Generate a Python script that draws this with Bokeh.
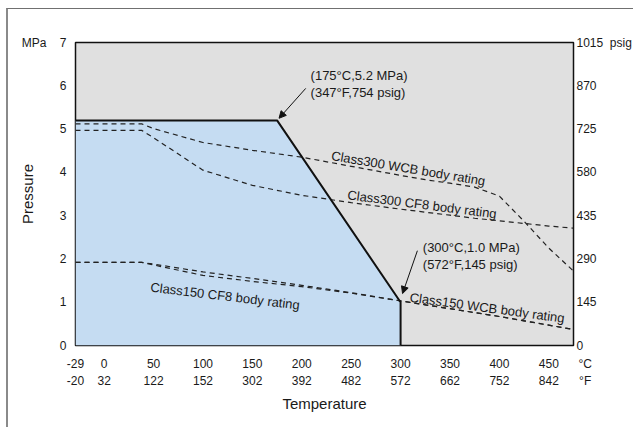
from bokeh.plotting import figure
from bokeh.models import (Range1d, LinearAxis, FixedTicker, Label, Arrow, NormalHead)
from bokeh.embed import file_html
from bokeh.resources import INLINE

# ---- data ----
temps_c = [-29, 38, 50, 100, 150, 200, 250, 300, 325, 350, 375, 400, 425, 450, 475]
wcb300 = [5.12, 5.12, 5.01, 4.69, 4.51, 4.35, 4.14, 3.93, 3.83, 3.75, 3.66, 3.45, 2.87, 2.25, 1.72]
cf8300 = [4.97, 4.97, 4.80, 4.05, 3.70, 3.47, 3.30, 3.15, 3.08, 3.01, 2.94, 2.88, 2.82, 2.76, 2.71]
wcb150 = [1.92, 1.92, 1.88, 1.70, 1.55, 1.39, 1.22, 1.03, 0.94, 0.85, 0.76, 0.67, 0.57, 0.47, 0.37]
cf8150 = [1.92, 1.92, 1.86, 1.62, 1.48, 1.36, 1.21, 1.03, 0.94, 0.85, 0.76, 0.67, 0.57, 0.47, 0.37]

bnd_t = [-29, 175, 300, 300]
bnd_p = [5.2, 5.2, 1.0, 0.0]

c_ticks = [-29, 0, 50, 100, 150, 200, 250, 300, 350, 400, 450]
c_labels = ["-29", "0", "50", "100", "150", "200", "250", "300", "350", "400", "450"]
f_labels = ["-20", "32", "122", "152", "302", "392", "482", "572", "662", "752", "842"]
mpa_ticks = [0, 1, 2, 3, 4, 5, 6, 7]
psig_ticks = [0, 145, 290, 435, 580, 725, 870, 1015]

T_MAX = 475
NB = "\u00a0"
FONT = "Liberation Sans"
TXT = "#1a1a1a"

p = figure(width=627, height=419, output_backend="svg", toolbar_location=None,
           x_range=Range1d(-29, T_MAX), y_range=Range1d(0, 7),
           min_border_left=67, min_border_right=62, min_border_top=33, min_border_bottom=83,
           x_axis_location=None, y_axis_location=None)
p.styles = {"margin-left": "6px", "margin-top": "8px",
            "border-left": "2px solid #8a8a8a", "border-top": "1px solid #707070"}
p.background_fill_color = "#e0e0e0"
p.border_fill_color = "white"
p.outline_line_color = "#111111"
p.outline_line_width = 1.5
p.xgrid.visible = False
p.ygrid.visible = False
p.extra_y_ranges = {"psig": Range1d(0, 1015)}

# blue region
p.patch([bnd_t[0]] + bnd_t, [0] + bnd_p, fill_color="#c5dcf2", line_color=None)
# dashed rating curves
for ys in (wcb300, cf8300, wcb150, cf8150):
    p.line(temps_c, ys, line_color="#222222", line_width=1.2, line_dash="5 4")
# boundary
p.line(bnd_t, bnd_p, line_color="#111111", line_width=2)


def style_axis(ax, standoff):
    ax.axis_line_color = None
    ax.major_tick_line_color = None
    ax.minor_tick_line_color = None
    ax.major_tick_out = 0
    ax.major_tick_in = 0
    ax.minor_tick_out = 0
    ax.minor_tick_in = 0
    ax.major_label_text_font = FONT
    ax.major_label_text_font_size = "12px"
    ax.major_label_text_color = TXT
    ax.major_label_standoff = standoff
    ax.axis_label_text_font = FONT
    ax.axis_label_text_font_size = "15px"
    ax.axis_label_text_font_style = "normal"
    ax.axis_label_text_color = TXT


ly = LinearAxis(ticker=FixedTicker(ticks=mpa_ticks), axis_label="Pressure",
                major_label_overrides={7: "MPa" + NB * 4 + "7"})
style_axis(ly, 9)
ly.axis_label_standoff = -17
p.add_layout(ly, "left")

ry = LinearAxis(y_range_name="psig", ticker=FixedTicker(ticks=psig_ticks),
                major_label_overrides={1015: "1015" + NB * 2 + "psig"})
style_axis(ry, 3)
p.add_layout(ry, "right")

ov1 = {t: s for t, s in zip(c_ticks, c_labels)}
ov1[T_MAX] = NB * 7 + "°C"
bx1 = LinearAxis(ticker=FixedTicker(ticks=c_ticks + [T_MAX]), major_label_overrides=ov1)
style_axis(bx1, 11)
p.add_layout(bx1, "below")

ov2 = {t: s for t, s in zip(c_ticks, f_labels)}
ov2[T_MAX] = NB * 7 + "°F"
bx2 = LinearAxis(ticker=FixedTicker(ticks=c_ticks + [T_MAX]), axis_label="Temperature",
                 major_label_overrides=ov2)
style_axis(bx2, 0)
bx2.axis_label_standoff = 4
p.add_layout(bx2, "below")


def lab(x, y, text, size="13px", align="left", baseline="middle", angle=0.0):
    p.add_layout(Label(x=x, y=y, text=text, text_font=FONT, text_font_size=size,
                       text_color=TXT, text_align=align, text_baseline=baseline,
                       angle=angle))


# point annotations
lab(208.9, 6.237, "(175°C,5.2 MPa)")
lab(208.9, 5.851, "(347°F,754 psig)")
lab(322.5, 2.271, "(300°C,1.0 MPa)")
lab(322.5, 1.871, "(572°F,145 psig)")
p.add_layout(Arrow(x_start=204, y_start=5.94, x_end=177, y_end=5.25, line_width=1,
                   line_color="#111111",
                   end=NormalHead(size=7, fill_color="#111111", line_color="#111111")))
p.add_layout(Arrow(x_start=317, y_start=2.19, x_end=302, y_end=1.2, line_width=1,
                   line_color="#111111",
                   end=NormalHead(size=7, fill_color="#111111", line_color="#111111")))

# curve labels
lab(230, 4.39, "Class300 WCB body rating", baseline="alphabetic", angle=-0.166)
lab(246.3, 3.48, "Class300 CF8 body rating", baseline="alphabetic", angle=-0.127)
lab(46.9, 1.35, "Class150 CF8 body rating", baseline="alphabetic", angle=-0.12)
lab(309.4, 1.116, "Class150 WCB body rating", baseline="alphabetic", angle=-0.136)

open("out.html", "w").write(file_html(p, INLINE))
